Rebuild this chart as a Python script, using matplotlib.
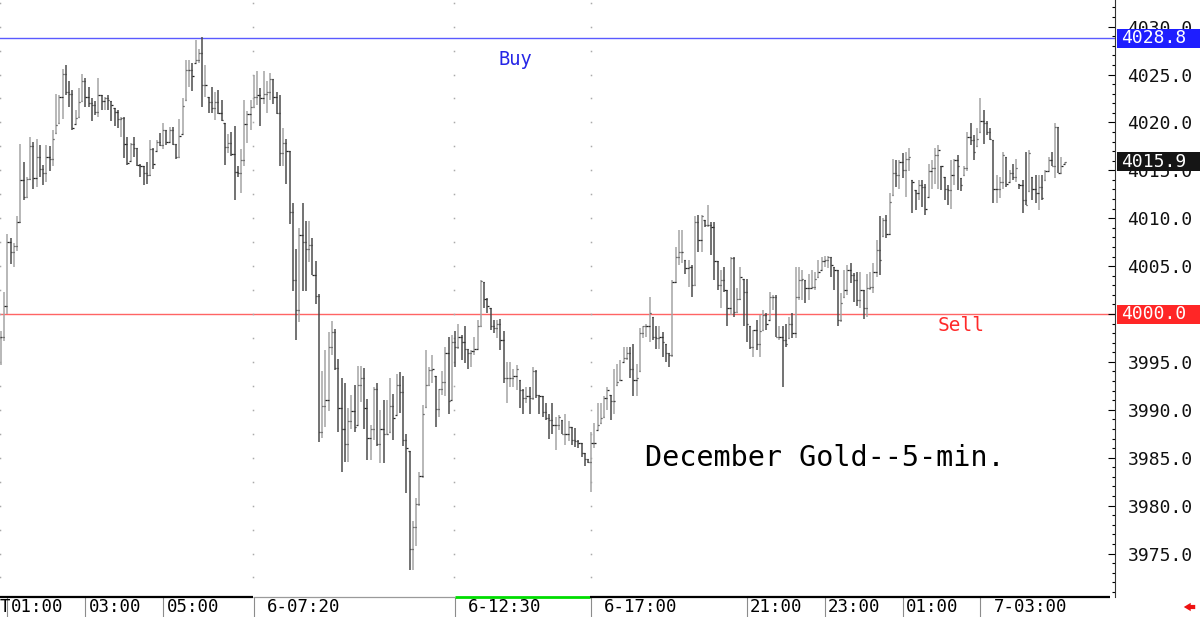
import numpy as np
import matplotlib.pyplot as plt
import matplotlib.transforms as mtransforms
from matplotlib.patches import Rectangle
from matplotlib.ticker import MultipleLocator, FormatStrFormatter

# 5-min OHLC bars, December gold
highs = [
    3998.2, 4002.3, 4008.4, 4007.9, 4007.4, 4010.2, 4017.8, 4015.9, 4014.3, 4018.5,
    4018.0, 4018.3, 4017.6, 4015.6, 4017.6, 4017.5, 4019.2, 4023.0, 4022.9, 4025.6,
    4026.0, 4024.3, 4023.4, 4021.3, 4023.6, 4025.1, 4024.6, 4023.7, 4022.5, 4022.2,
    4024.6, 4022.9, 4022.7, 4022.9, 4022.2, 4021.5, 4021.3, 4020.6, 4020.6, 4018.5,
    4017.9, 4018.5, 4017.3, 4015.7, 4015.5, 4015.9, 4018.2, 4017.3, 4018.2, 4018.9,
    4019.9, 4019.2, 4019.5, 4019.5, 4017.8, 4020.4, 4022.5, 4026.5, 4026.5, 4026.2,
    4028.6, 4027.7, 4028.9, 4026.0, 4022.7,
    4023.7, 4023.2, 4023.4, 4022.3, 4019.9, 4018.8, 4019.0, 4019.6, 4015.4, 4017.2,
    4022.3, 4021.2, 4022.3, 4025.0, 4025.4, 4023.6, 4025.4, 4024.3, 4025.2, 4024.5,
    4023.2, 4022.9, 4019.4, 4018.3, 4017.0, 4011.6, 4006.8, 4009.0, 4011.6, 4009.7,
    4009.7, 4007.9, 4005.5, 4002.1, 3994.1, 3996.2, 3998.1, 3999.3, 3998.4, 3995.3,
    3993.3, 3992.8, 3990.2, 3991.5, 3992.6, 3994.6, 3994.6, 3994.4, 3991.1, 3988.4,
    3992.4, 3992.8, 3990.0, 3991.0, 3991.0, 3993.3, 3991.7, 3993.7, 3993.9, 3993.5,
    3987.5, 3985.7, 3978.4, 3980.8, 3983.5,
    3990.5, 3996.2, 3994.5, 3995.7, 3993.5, 3992.2, 3994.0, 3996.6, 3997.6, 3997.8,
    3998.2, 3999.0, 3997.8, 3998.7, 3996.4, 3996.2, 3997.6, 3999.4, 4003.5, 4003.3,
    4001.7, 4000.6, 3999.4, 3999.4, 3999.5, 3998.2, 3995.0, 3995.0, 3994.3, 3994.7,
    3993.1, 3992.2, 3992.4, 3992.4, 3994.5, 3994.2, 3991.5, 3991.4, 3990.7, 3989.6,
    3990.7, 3989.3, 3989.5, 3988.9, 3989.6, 3988.8, 3988.2, 3988.1, 3986.8, 3986.5,
    3985.5, 3984.9, 3987.7, 3988.6, 3990.7, 3990.7, 3991.4, 3992.4, 3991.5, 3994.3,
    3994.8, 3995.2, 3996.6, 3996.6, 3996.6, 3996.9, 3994.8,
    3998.5, 3998.8, 3999.0, 4001.8, 3999.7, 3998.7, 3998.8, 3998.1, 3996.9, 3995.9,
    4003.5, 4007.0, 4008.8, 4008.8, 4005.6, 4005.6, 4005.1, 4010.2, 4010.3, 4010.3,
    4009.8, 4011.4, 4009.6, 4009.6, 4005.5, 4004.6, 4004.9, 4002.5, 4006.0, 4006.0,
    4002.7, 4004.9, 4003.7, 4003.7, 3998.7, 3998.3, 3999.4, 3999.9, 4000.4, 4000.1,
    4002.3, 4002.0, 4002.0, 3998.8, 3998.8, 3999.0, 3999.7, 4000.1, 4004.9, 4004.9,
    4004.6, 4003.5, 4004.2, 4004.6, 4004.4, 4005.6, 4006.0, 4006.1, 4006.1, 4006.0,
    4004.9, 4004.6, 4002.2, 4004.6,
    4005.1, 4005.3, 4004.3, 4004.4, 4004.4, 4002.5, 4004.2, 4004.4, 4005.3, 4007.7,
    4010.2, 4010.0, 4010.3, 4012.6, 4016.2, 4016.1, 4016.1, 4016.8, 4016.9, 4017.3,
    4014.0, 4012.9, 4014.0, 4014.0, 4013.6, 4015.7, 4016.1, 4017.3, 4017.6, 4015.5,
    4014.3, 4013.5, 4016.1, 4016.2, 4016.6, 4014.2, 4015.4, 4019.0, 4019.9, 4018.7,
    4019.4, 4022.5, 4021.3, 4020.2, 4019.4, 4018.2, 4014.5, 4014.3, 4016.9, 4016.4,
    4015.0, 4015.7, 4016.2, 4013.6, 4014.0, 4016.9, 4017.1, 4014.3, 4014.5, 4014.5,
    4014.5, 4015.0, 4016.4, 4016.9, 4019.9, 4019.5, 4016.4, 4015.9,
]
lows = [
    3994.7, 3997.2, 4000.0, 4005.2, 4004.9, 4006.6, 4009.5, 4011.9, 4012.2, 4014.0,
    4013.1, 4013.3, 4014.3, 4013.5, 4013.8, 4014.9, 4015.4, 4018.9, 4019.9, 4020.4,
    4022.9, 4021.6, 4019.2, 4019.8, 4020.6, 4022.2, 4021.6, 4021.6, 4020.1, 4020.8,
    4020.6, 4021.3, 4021.3, 4021.3, 4020.1, 4019.6, 4019.4, 4018.5, 4016.3, 4015.6,
    4016.0, 4016.4, 4015.4, 4014.3, 4013.5, 4013.6, 4014.4, 4015.1, 4017.0, 4017.5,
    4017.2, 4017.6, 4018.0, 4017.6, 4016.2, 4016.4, 4018.8, 4022.3, 4023.7, 4023.3,
    4026.2, 4026.2, 4021.6, 4022.7, 4021.0,
    4021.0, 4020.3, 4020.9, 4020.1, 4015.6, 4016.8, 4016.5, 4011.9, 4014.3, 4012.6,
    4015.4, 4017.9, 4019.2, 4021.6, 4021.8, 4019.6, 4021.9, 4021.0, 4022.3, 4021.9,
    4020.9, 4015.4, 4015.4, 4013.6, 4009.4, 4002.4, 3997.3, 3999.2, 4002.4, 4002.4,
    4005.4, 4004.1, 4001.0, 3986.6, 3987.1, 3988.2, 3989.9, 3995.7, 3994.2, 3987.7,
    3983.5, 3984.6, 3984.6, 3988.0, 3987.7, 3988.4, 3990.8, 3988.0, 3984.8, 3984.8,
    3986.9, 3986.2, 3984.4, 3984.4, 3987.5, 3987.7, 3986.9, 3989.5, 3989.7, 3986.2,
    3981.3, 3973.3, 3973.3, 3975.8, 3980.0,
    3982.9, 3990.3, 3992.6, 3992.8, 3988.2, 3989.3, 3991.5, 3991.4, 3989.6, 3991.0,
    3994.5, 3996.4, 3995.2, 3994.9, 3994.3, 3994.5, 3995.7, 3996.4, 3998.7, 4000.6,
    4000.1, 3998.3, 3998.0, 3997.5, 3996.2, 3992.8, 3990.7, 3992.4, 3992.4, 3992.1,
    3990.2, 3989.6, 3990.7, 3989.6, 3991.0, 3991.2, 3989.6, 3989.3, 3988.9, 3987.0,
    3987.5, 3985.8, 3987.9, 3987.5, 3986.3, 3986.7, 3986.3, 3986.1, 3986.0, 3985.1,
    3984.1, 3984.4, 3981.4, 3986.0, 3987.9, 3988.6, 3989.3, 3990.0, 3988.9, 3989.6,
    3992.6, 3993.1, 3995.0, 3995.2, 3993.3, 3991.4, 3991.4,
    3994.0, 3997.5, 3997.6, 3997.1, 3997.3, 3996.4, 3996.4, 3995.5, 3995.0, 3994.5,
    3995.5, 4003.2, 4005.1, 4005.3, 4004.2, 4002.8, 4001.8, 4003.0, 4006.5, 4006.5,
    4009.1, 4009.1, 4006.2, 4003.5, 4002.5, 4000.6, 4002.3, 3998.7, 3999.9, 3999.7,
    4000.2, 4001.5, 3998.7, 3997.1, 3996.4, 3995.5, 3996.2, 3995.5, 3998.3, 3998.3,
    3999.4, 4000.4, 3997.6, 3997.3, 3992.4, 3996.6, 3997.5, 3997.5, 3997.5, 4001.5,
    4001.5, 4001.1, 4001.5, 4002.7, 4002.5, 4003.9, 4004.6, 4004.9, 4004.8, 4003.9,
    4002.5, 3998.7, 3999.2, 4001.8,
    4002.0, 4003.2, 4001.3, 4000.8, 4000.6, 3999.5, 3999.7, 4002.5, 4002.2, 4003.9,
    4004.1, 4008.1, 4007.9, 4008.2, 4012.4, 4013.3, 4013.1, 4014.2, 4012.2, 4014.9,
    4010.5, 4010.9, 4011.9, 4011.2, 4010.3, 4012.2, 4013.0, 4013.6, 4013.1, 4012.9,
    4011.9, 4011.4, 4011.0, 4013.5, 4012.9, 4012.8, 4014.5, 4014.9, 4017.6, 4016.1,
    4017.5, 4019.0, 4017.8, 4018.7, 4018.2, 4011.6, 4011.6, 4012.1, 4013.1, 4013.3,
    4013.8, 4014.0, 4013.8, 4013.1, 4010.5, 4011.4, 4012.8, 4011.9, 4011.6, 4010.9,
    4011.9, 4014.0, 4014.9, 4015.4, 4014.2, 4014.7, 4014.7, 4015.7,
]
closes = [
    3997.6, 4000.8, 4007.5, 4006.5, 4007.1, 4009.6, 4014.0, 4012.2, 4014.1, 4017.5,
    4014.2, 4016.4, 4015.1, 4014.7, 4016.4, 4016.2, 4018.3, 4019.7, 4022.7, 4025.1,
    4023.2, 4023.0, 4019.4, 4020.5, 4022.1, 4024.3, 4022.7, 4022.0, 4021.8, 4021.1,
    4022.9, 4022.2, 4022.5, 4022.3, 4021.8, 4021.1, 4020.4, 4020.5, 4017.8, 4015.8,
    4017.8, 4017.3, 4015.6, 4015.4, 4014.7, 4014.5, 4017.2, 4015.7, 4018.0, 4017.6,
    4019.2, 4018.0, 4019.2, 4017.8, 4016.4, 4018.6, 4021.7, 4025.5, 4025.5, 4024.8,
    4026.5, 4027.2, 4023.9, 4023.9, 4022.1,
    4021.5, 4022.1, 4021.0, 4020.3, 4017.4, 4017.9, 4016.7, 4014.8, 4014.7, 4016.1,
    4019.8, 4020.9, 4021.6, 4022.7, 4022.9, 4022.5, 4023.0, 4023.2, 4024.5, 4022.7,
    4021.0, 4016.8, 4017.9, 4017.0, 4010.6, 4003.5, 4000.4, 4008.3, 4007.5, 4006.8,
    4007.2, 4004.1, 4001.9, 3987.7, 3990.4, 3991.0, 3996.6, 3998.1, 3994.4, 3990.2,
    3988.0, 3986.4, 3988.8, 3989.9, 3988.2, 3992.6, 3993.3, 3990.2, 3987.1, 3988.0,
    3992.2, 3986.4, 3988.0, 3987.5, 3987.5, 3990.4, 3989.1, 3992.6, 3991.9, 3986.8,
    3986.0, 3975.5, 3977.8, 3980.2, 3983.1,
    3989.6, 3992.6, 3994.2, 3994.3, 3990.1, 3992.2, 3992.9, 3995.9, 3990.9, 3997.1,
    3996.6, 3997.6, 3997.1, 3996.4, 3995.9, 3996.1, 3996.4, 3998.8, 4003.4, 4001.6,
    4000.8, 3998.7, 3998.5, 3999.0, 3997.3, 3993.3, 3993.3, 3993.3, 3993.5, 3994.3,
    3992.1, 3991.2, 3991.4, 3991.2, 3994.0, 3991.5, 3991.4, 3989.8, 3989.1, 3988.9,
    3988.4, 3988.4, 3989.3, 3987.5, 3987.5, 3988.2, 3986.8, 3986.7, 3986.5, 3985.5,
    3984.9, 3984.6, 3986.5, 3986.5, 3988.4, 3989.1, 3991.2, 3992.1, 3990.9, 3990.9,
    3992.9, 3993.1, 3995.4, 3995.9, 3994.3, 3993.1, 3993.3,
    3998.0, 3998.7, 3998.8, 4000.1, 3997.6, 3997.5, 3997.6, 3997.1, 3995.9, 3995.7,
    4003.3, 4006.0, 4006.5, 4006.5, 4004.8, 4004.9, 4003.0, 4009.6, 4007.7, 4010.2,
    4009.3, 4009.3, 4009.1, 4005.5, 4003.0, 4003.5, 4002.5, 4000.6, 4005.8, 4000.2,
    4001.6, 4003.9, 4002.3, 3999.0, 3996.6, 3998.3, 3996.9, 3998.2, 3999.9, 3999.0,
    4001.8, 4001.8, 3997.6, 3997.6, 3997.3, 3996.9, 3999.0, 3998.0, 4001.8, 4003.5,
    4003.7, 4002.7, 4002.7, 4002.8, 4003.7, 4004.4, 4005.5, 4005.6, 4006.0, 4005.1,
    4004.6, 3999.4, 4001.1, 4002.5,
    4004.6, 4004.1, 4003.5, 4001.5, 4002.5, 4000.6, 4002.7, 4002.8, 4004.4, 4006.7,
    4005.6, 4009.8, 4008.4, 4011.7, 4014.7, 4014.5, 4015.9, 4015.0, 4016.2, 4016.4,
    4013.8, 4012.6, 4013.5, 4013.3, 4011.0, 4014.9, 4015.2, 4016.6, 4017.1, 4015.4,
    4013.1, 4012.9, 4014.5, 4016.1, 4015.4, 4013.5, 4015.2, 4018.5, 4018.2, 4016.9,
    4018.3, 4020.2, 4019.9, 4019.0, 4018.3, 4013.0, 4013.0, 4013.8, 4016.6, 4013.6,
    4014.7, 4014.3, 4015.2, 4013.5, 4011.9, 4011.4, 4016.8, 4013.1, 4012.6, 4013.3,
    4012.1, 4014.9, 4016.1, 4015.5, 4019.5, 4014.7, 4015.5, 4015.9,
]

# time axis labels (bar index where each label starts)
tick_pos = [2, 26, 50, 78, 140, 182, 230, 254, 278, 302]
tick_txt = ['01:00', '03:00', '05:00', '6-07:20', '6-12:30', '6-17:00',
            '21:00', '23:00', '01:00', '7-03:00']
buy_level = 4028.8
sell_level = 4000.0
last_price = 4015.9

MONO = 'DejaVu Sans Mono'
PX = 3.243          # pixels per bar

highs = np.array(highs)
lows = np.array(lows)
closes = np.array(closes)
opens = np.r_[closes[0], closes[:-1]]   # each bar opens at prior close
n = len(closes)
x = np.arange(n)

fig = plt.figure(figsize=(12, 6.17), dpi=100)
ax = fig.add_axes([0, 20/617, 1115/1200, 597/617])
ax.set_xlim(-0.31, 343.5)
ax.set_ylim(3970.46, 4032.78)

up = closes >= opens
ax.vlines(x[up], lows[up], highs[up], color='#a4a4a4', lw=1.1, zorder=2)
ax.vlines(x[~up], lows[~up], highs[~up], color='#4c4c4c', lw=1.1, zorder=2)
o = np.clip(opens, lows, highs)
ax.hlines(o, x - 0.4, x, color='#333333', lw=0.9, zorder=3)
ax.hlines(closes, x, x + 0.4, color='#222222', lw=0.9, zorder=3)

# buy / sell lines
ax.axhline(buy_level, color='#5a5aff', lw=1.0, zorder=1)
ax.axhline(sell_level, color='#ff6464', lw=1.0, zorder=1)
ax.text(158.5, 4026.6, 'Buy', color='#2626e6', family=MONO, fontsize=13.5,
        ha='center', va='center')
ax.text(296.0, 3998.85, 'Sell', color='#ff2a2a', family=MONO, fontsize=14,
        ha='center', va='center')
ax.text(254.1, 3984.97, 'December Gold--5-min.', color='black', family=MONO,
        fontsize=20.5, ha='center', va='center')

# dotted session markers
dots = np.arange(3972.5, 4032.6, 2.5)
for p in [0, 78, 140, 182]:
    ax.plot(np.full(len(dots), p - 0.2), dots, ls='none', marker='s', ms=1.1,
            color='#aaaaaa', mec='none', zorder=1)

# right price axis
for s in ['top', 'left', 'bottom']:
    ax.spines[s].set_visible(False)
ax.spines['right'].set_color('#333333')
ax.spines['right'].set_linewidth(0.8)
ax.set_xticks([])
ax.yaxis.tick_right()
ax.yaxis.set_major_locator(MultipleLocator(5))
ax.yaxis.set_minor_locator(MultipleLocator(1))
ax.yaxis.set_major_formatter(FormatStrFormatter('%.1f'))
ax.tick_params(axis='y', which='major', direction='in', length=5, width=0.8,
               pad=9, labelsize=13, labelfontfamily=MONO, labelcolor='#111111')
ax.tick_params(axis='y', which='minor', direction='in', length=2.5, width=0.8)

ty = mtransforms.blended_transform_factory(ax.transAxes, ax.transData)
for lvl, col in [(buy_level, '#1e1eff'), (last_price, '#151515'),
                 (sell_level, '#ff2626')]:
    ax.add_patch(Rectangle((1117/1115, lvl - 0.99), 83/1115, 1.98,
                           transform=ty, facecolor=col, edgecolor='none',
                           clip_on=False, zorder=5))
    ax.text(1121/1115, lvl, f'{lvl:.1f}', color='white', family=MONO,
            fontsize=13, ha='left', va='center', transform=ty, clip_on=False,
            zorder=6)

# time axis strip
tx = mtransforms.blended_transform_factory(ax.transData, ax.transAxes)
segs = [(0, 253, 'black', 1.6), (253, 455, '#9a9a9a', 0.9),
        (455, 590, '#00dd00', 2.0), (590, 1110, 'black', 1.6)]
for a, b, col, lw in segs:
    ax.plot([(a - 1)/PX, (b - 1)/PX], [0, 0], color=col, lw=lw, transform=tx,
            clip_on=False, solid_capstyle='butt', zorder=4)
ax.text(-0.31, -10/597, 'T', family=MONO, fontsize=12.5, ha='left',
        va='center', transform=tx, clip_on=False)
for p, t in zip(tick_pos, tick_txt):
    ax.plot([p, p], [-20/597, -1/597], color='#8c8c8c', lw=0.8, transform=tx,
            clip_on=False)
    off = 4.0 if '-' in t else 1.0
    ax.text(p + off, -10/597, t, family=MONO, fontsize=12.5, ha='left',
            va='center', transform=tx, clip_on=False)

ax.annotate('', xy=(1181/1200, 10/617), xytext=(1198/1200, 10/617),
            xycoords='figure fraction', textcoords='figure fraction',
            arrowprops=dict(arrowstyle='simple,head_length=0.5,head_width=0.6,tail_width=0.3',
                            color='#ee1111', lw=0))

fig.savefig('out.png', dpi=100)
